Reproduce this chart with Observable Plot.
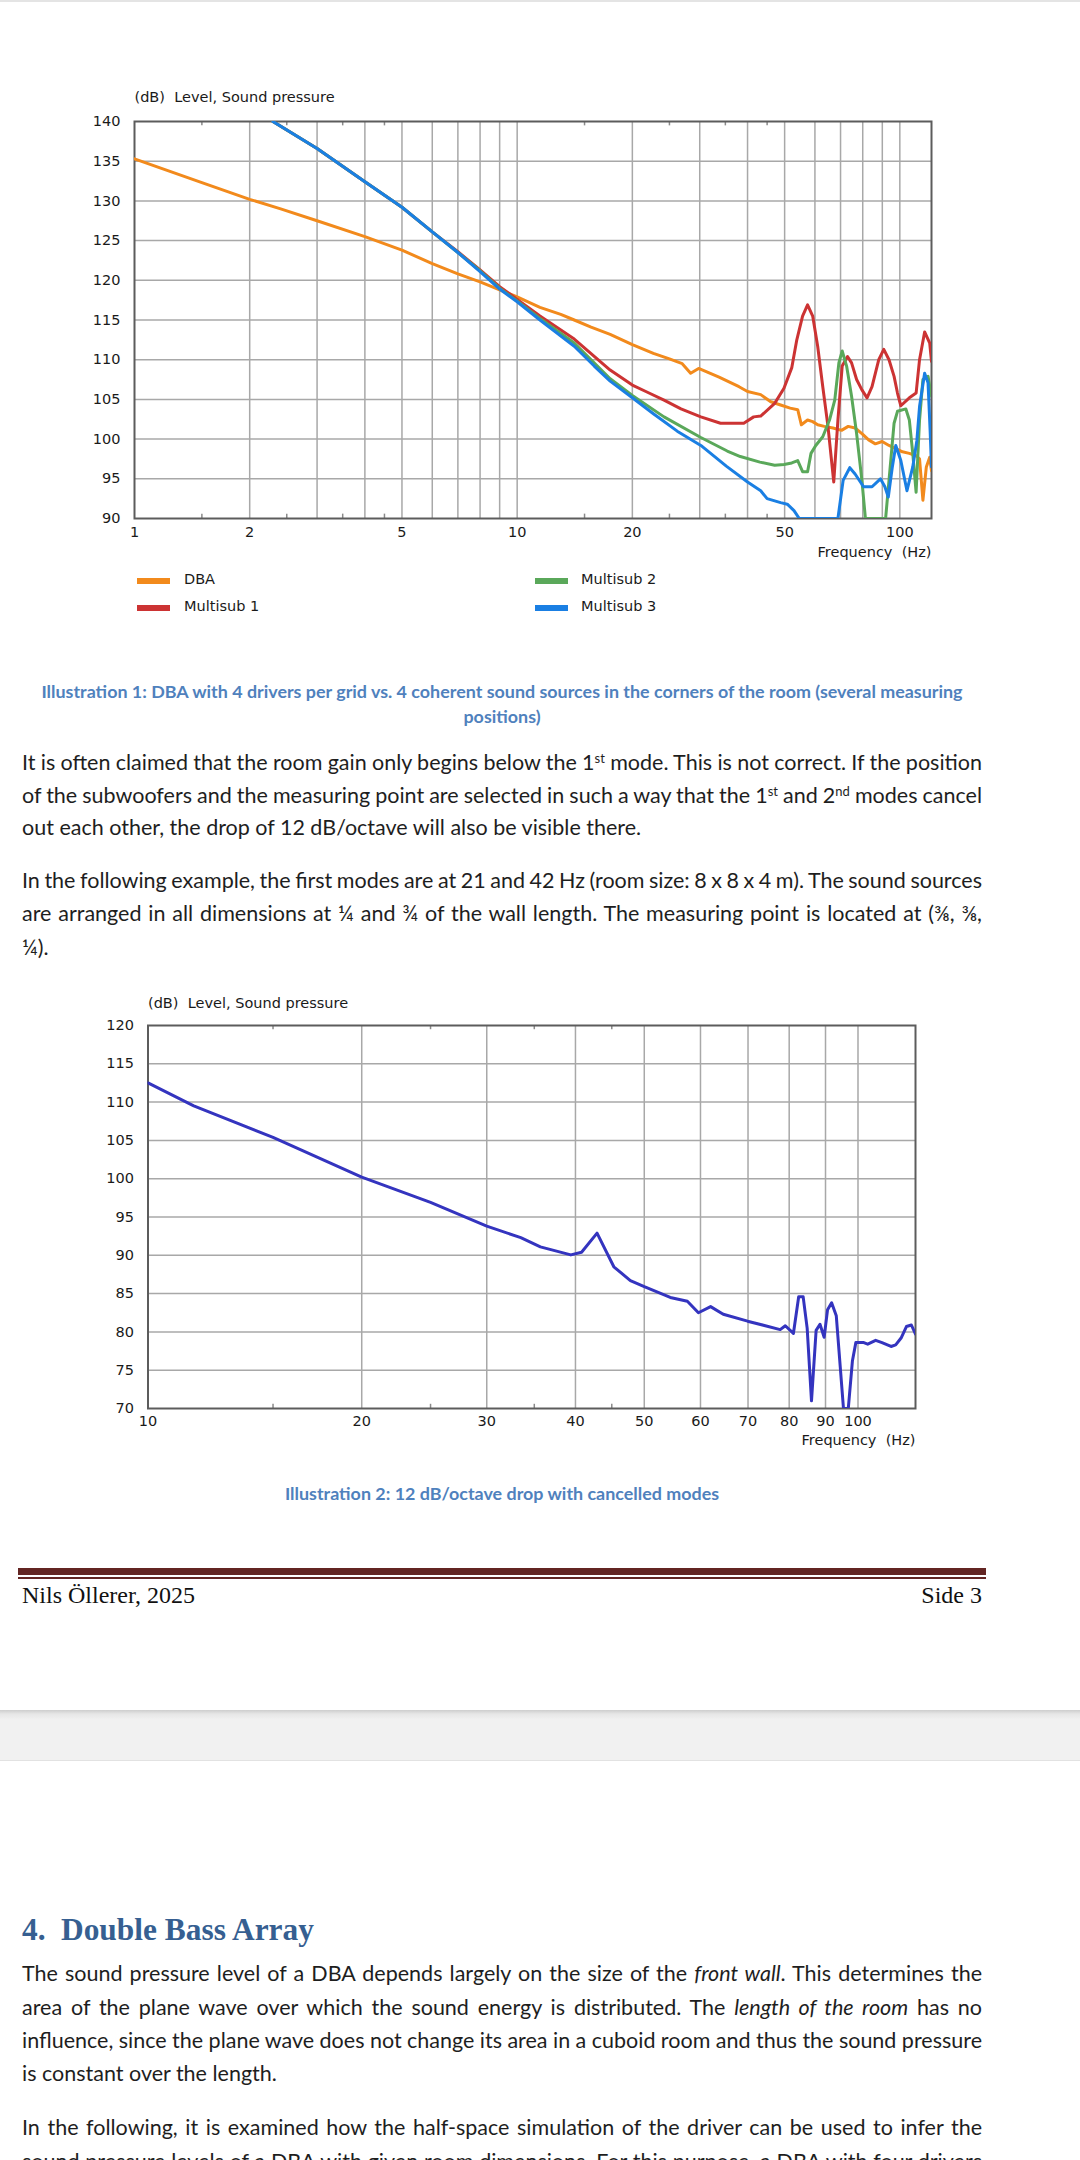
<!DOCTYPE html>
<html>
<head>
<meta charset="utf-8">
<script src="https://cdn.jsdelivr.net/npm/d3@7"></script>
<script src="https://cdn.jsdelivr.net/npm/@observablehq/plot@0.6"></script>
<style>
  html, body { margin: 0; padding: 0; background: #fff; }
  #page { position: relative; width: 1080px; height: 2160px; overflow: hidden; background: #fff; }
  .abs { position: absolute; }
  .line { position: absolute; left: 22px; width: 960px; height: 32px; line-height: 32px;
          font-family: "Lato", sans-serif; font-size: 21.5px; color: #1e1e1e; white-space: nowrap; }
  .j { text-align: justify; text-align-last: justify; white-space: normal; word-spacing: -2px; }
  .line sup { font-size: 13px; line-height: 0; vertical-align: 7px; }
  .cap { position: absolute; left: 22px; width: 960px; text-align: center; height: 26px; line-height: 26px;
         font-family: "Lato", sans-serif; font-weight: bold; font-size: 17.9px; color: #4f81bd; white-space: nowrap; }
  .leg { position: absolute; font-family: "DejaVu Sans", sans-serif; font-size: 14.5px; color: #1a1a1a;
         height: 18px; line-height: 18px; white-space: nowrap; }
  .sw { position: absolute; width: 33px; height: 6px; }
  .foot { position: absolute; font-family: "Liberation Serif", serif; font-size: 24px; color: #111;
          height: 36px; line-height: 36px; white-space: nowrap; }
  .head { position: absolute; top: 1908px; height: 44px; line-height: 44px; font-family: "Liberation Serif", serif;
          font-weight: bold; font-size: 31.4px; color: #365f91; white-space: nowrap; }
</style>
</head>
<body>
<div id="page">
  <div class="abs" style="left:0;top:0;width:1080px;height:2px;background:#e4e4e4"></div>
  <div id="chart1" class="abs" style="left:0;top:0"></div>

  <div class="sw" id="sw0" style="left:137px;top:578px"></div>
  <div class="leg" id="lg0" style="left:184px;top:570px"></div>
  <div class="sw" id="sw1" style="left:137px;top:605px"></div>
  <div class="leg" id="lg1" style="left:184px;top:597px"></div>
  <div class="sw" id="sw2" style="left:535px;top:578px"></div>
  <div class="leg" id="lg2" style="left:581px;top:570px"></div>
  <div class="sw" id="sw3" style="left:535px;top:605px"></div>
  <div class="leg" id="lg3" style="left:581px;top:597px"></div>

  <div class="cap" style="top:678px">Illustration 1: DBA with 4 drivers per grid vs. 4 coherent sound sources in the corners of the room (several measuring</div>
  <div class="cap" style="top:703px">positions)</div>

  <div class="line j" style="top:746px">It is often claimed that the room gain only begins below the 1<sup>st</sup> mode. This is not correct. If the position</div>
  <div class="line j" style="top:779px">of the subwoofers and the measuring point are selected in such a way that the 1<sup>st</sup> and 2<sup>nd</sup> modes cancel</div>
  <div class="line" style="top:811px">out each other, the drop of 12 dB/octave will also be visible there.</div>

  <div class="line j" style="top:864px">In the following example, the first modes are at 21 and 42 Hz (room size: 8 x 8 x 4 m). The sound sources</div>
  <div class="line j" style="top:897px">are arranged in all dimensions at ¼ and ¾ of the wall length. The measuring point is located at (⅜, ⅜,</div>
  <div class="line" style="top:931px">¼).</div>

  <div id="chart2" class="abs" style="left:0;top:960px"></div>

  <div class="cap" style="top:1480px">Illustration 2: 12 dB/octave drop with cancelled modes</div>

  <div class="abs" style="left:18px;top:1568px;width:968px;height:7px;background:#632523"></div>
  <div class="abs" style="left:18px;top:1577px;width:968px;height:1.5px;background:#632523"></div>
  <div class="foot" style="left:22px;top:1577px">Nils Öllerer, 2025</div>
  <div class="foot" style="left:682px;top:1577px;width:300px;text-align:right">Side 3</div>

  <div class="abs" style="left:0;top:1710px;width:1080px;height:51px;background:linear-gradient(#cdcdcd 0px,#e6e6e6 4px,#f1f1f1 10px,#f1f1f1 50px)"></div>
  <div class="abs" style="left:0;top:1760px;width:1080px;height:1px;background:#e2e2e2"></div>

  <div class="head" style="left:22px">4.</div>
  <div class="head" style="left:61px">Double Bass Array</div>

  <div class="line j" style="top:1957px">The sound pressure level of a DBA depends largely on the size of the <i>front wall</i>. This determines the</div>
  <div class="line j" style="top:1991px">area of the plane wave over which the sound energy is distributed. The <i>length of the room</i> has no</div>
  <div class="line j" style="top:2024px">influence, since the plane wave does not change its area in a cuboid room and thus the sound pressure</div>
  <div class="line" style="top:2057px">is constant over the length.</div>
  <div class="line j" style="top:2111px">In the following, it is examined how the half-space simulation of the driver can be used to infer the</div>
  <div class="line j" style="top:2145px">sound pressure levels of a DBA with given room dimensions. For this purpose, a DBA with four drivers</div>
</div>

<script>
// ---------- Chart 1 data ----------
const seriesNames = ["DBA", "Multisub 1", "Multisub 2", "Multisub 3"];
const seriesColors = ["#f28a1c", "#cc3333", "#5aa85a", "#1a7fe3"];

const dbaFreq  = [1, 1.5, 2, 2.41, 3, 4, 5, 6, 7, 8, 9, 10, 11.47, 13, 14.1, 15.6, 17.5, 20, 22.7, 25, 27, 28.4, 29.8, 33.7, 38, 40, 43.3, 46, 48.8, 51.7, 54.1, 55.3, 57.4, 59.2, 61, 63.5, 66.9, 70.4, 73.3, 76.4, 79.6, 82.9, 86.3, 89.9, 93.7, 97.6, 101.6, 105.9, 110.3, 112.6, 114.9, 117.3, 119.7, 121];
const dbaLevel = [135.3, 132.3, 130.2, 129.0, 127.5, 125.5, 123.8, 122.1, 120.8, 119.8, 118.8, 117.9, 116.6, 115.7, 115.0, 114.1, 113.2, 111.9, 110.8, 110.1, 109.5, 108.3, 108.9, 107.8, 106.6, 106.0, 105.6, 104.7, 104.3, 103.9, 103.7, 101.8, 102.4, 102.2, 101.8, 101.6, 101.4, 101.1, 101.6, 101.4, 100.7, 99.9, 99.4, 99.7, 99.2, 98.8, 98.4, 98.2, 97.9, 97.5, 92.3, 96.5, 97.7, 96.0];

const ms1Freq  = [2.3, 3, 4, 5, 6, 7, 8, 9, 10, 11.47, 14.1, 17.5, 20, 21.9, 24.2, 26.8, 30.2, 34, 39.1, 41.5, 43.3, 47.1, 49.8, 52.2, 53.8, 55.7, 57.4, 59.2, 61.0, 62.9, 64.9, 67.2, 68.9, 70.7, 73.0, 74.8, 77.1, 79.6, 82.1, 84.6, 88.1, 90.8, 93.7, 96.6, 98.6, 100.6, 105.9, 110.3, 112.6, 116.1, 119.7, 121];
const ms1Level = [140, 136.6, 132.4, 129.2, 126.1, 123.6, 121.3, 119.2, 117.6, 115.5, 112.6, 108.7, 106.8, 105.9, 104.9, 103.8, 102.8, 102.0, 102.0, 102.8, 102.9, 104.5, 106.4, 109.0, 112.5, 115.5, 116.9, 115.5, 111.7, 106.6, 101.6, 94.6, 102.4, 109.2, 110.4, 109.6, 107.5, 106.2, 105.2, 106.6, 110.0, 111.3, 110.0, 107.9, 105.8, 104.2, 105.2, 105.8, 110.0, 113.5, 112.1, 109.8];

const ms2Freq  = [2.3, 3, 4, 5, 6, 7, 8, 9, 10, 11.47, 14.1, 17.5, 20, 24.2, 30.2, 35.4, 38.3, 43.1, 47.1, 49.8, 52.2, 54.1, 55.7, 57.4, 58.6, 60.3, 62.9, 65.5, 67.6, 69.3, 70.7, 72.6, 74.8, 77.1, 79.6, 81.3, 91.8, 93.7, 96.6, 98.6, 103.7, 105.9, 108.1, 110.3, 112.6, 114.9, 118.5, 121];
const ms2Level = [140, 136.6, 132.4, 129.2, 126.1, 123.5, 121.2, 119.0, 117.4, 115.2, 112.1, 107.6, 105.5, 102.8, 100.2, 98.5, 97.8, 97.1, 96.7, 96.8, 97.0, 97.3, 95.9, 95.9, 98.2, 99.2, 100.3, 102.4, 104.9, 109.6, 111.1, 109.2, 105.4, 100.7, 94.8, 90, 90, 94.8, 102.0, 103.5, 103.8, 102.4, 98.2, 93.3, 102.4, 107.5, 107.9, 105.4];

const ms3Freq  = [2.3, 3, 4, 5, 6, 7, 8, 9, 10, 11.47, 14.1, 15.9, 17.5, 20, 22.7, 26.2, 30.2, 35.2, 40, 43.3, 45, 48.8, 50.8, 52.9, 54.6, 68.9, 71.1, 74.0, 76.4, 80.4, 84.6, 89.0, 91.4, 93.3, 95.6, 97.6, 100.6, 104.4, 108.1, 110.8, 112.6, 116.1, 118.5, 120, 121];
const ms3Level = [140, 136.6, 132.4, 129.2, 126.1, 123.5, 121.1, 118.9, 117.3, 115.0, 111.7, 109.2, 107.3, 105.2, 103.2, 101.0, 99.2, 96.6, 94.6, 93.5, 92.5, 92.0, 91.8, 91.0, 90, 90, 94.8, 96.4, 95.6, 94.0, 94.0, 95.0, 94.0, 92.7, 96.5, 99.2, 97.3, 93.5, 96.5, 99.8, 104.1, 108.3, 107.1, 101.1, 96.5];

const xTickLabels1 = [1, 2, 5, 10, 20, 50, 100];
const yTicks1 = [90, 95, 100, 105, 110, 115, 120, 125, 130, 135, 140];
const xGrid1 = [2, 3, 4, 5, 6, 7, 8, 9, 10, 20, 30, 40, 50, 60, 70, 80, 90, 100];
const yGrid1 = [95, 100, 105, 110, 115, 120, 125, 130, 135];
const xMinor1 = [1.5, 2.5, 3.5, 4.5, 15, 25, 35, 45];
const xDomain1 = [1, 121];
const yDomain1 = [90, 140];

// ---------- Chart 2 data ----------
const c2Freq  = [10, 11.6, 15, 20, 25, 30, 33.5, 35.7, 39.4, 40.8, 42.9, 45.3, 47.8, 50, 54.4, 57.5, 59.6, 62, 64.6, 69.9, 77.7, 79, 81.1, 82.5, 83.7, 84.8, 86.0, 87.3, 88.4, 89.6, 90.6, 91.8, 93.2, 95.4, 96.9, 98.2, 99.3, 101.9, 103.2, 105.9, 108.1, 111.3, 113, 115, 117, 118.9, 120.5];
const c2Level = [112.5, 109.5, 105.4, 100.2, 96.9, 93.8, 92.3, 91.1, 90.05, 90.4, 92.9, 88.5, 86.7, 85.9, 84.5, 84.0, 82.5, 83.3, 82.3, 81.4, 80.3, 80.8, 79.8, 84.6, 84.6, 80.5, 71.0, 80.2, 81.0, 79.3, 82.9, 83.8, 82.1, 70, 70, 76.2, 78.6, 78.6, 78.4, 78.9, 78.6, 78.1, 78.3, 79.2, 80.7, 80.9, 79.7];
const xTickLabels2 = [10, 20, 30, 40, 50, 60, 70, 80, 90, 100];
const yTicks2 = [70, 75, 80, 85, 90, 95, 100, 105, 110, 115, 120];
const xGrid2 = [20, 30, 40, 50, 60, 70, 80, 90, 100];
const yGrid2 = [75, 80, 85, 90, 95, 100, 105, 110, 115];
const xMinor2 = [15, 25, 35, 45];
const xDomain2 = [10, 120.5];
const yDomain2 = [70, 120];
const c2Color = "#3434bf";

const yTitle = "(dB)\u00a0\u00a0Level, Sound pressure";
const xTitle = "Frequency\u00a0\u00a0(Hz)";

// ---------- build ----------
const freqs1 = [dbaFreq, ms1Freq, ms2Freq, ms3Freq];
const levels1 = [dbaLevel, ms1Level, ms2Level, ms3Level];
const tables1 = seriesNames.map((s, i) => freqs1[i].map((f, j) => ({series: s, f, db: levels1[i][j]})));
const table2 = c2Freq.map((f, j) => ({f, db: c2Level[j]}));

const gridStroke = "#a8a8a8";
const frameStroke = "#5c5c5c";
const textFill = "#1a1a1a";

function chartMarks(xGrid, yGrid, xMinor, yDomain) {
  const span = yDomain[1] - yDomain[0];
  return [
    Plot.ruleX(xGrid, {stroke: gridStroke, strokeWidth: 1.5}),
    Plot.ruleY(yGrid, {stroke: gridStroke, strokeWidth: 1.5}),
    Plot.ruleX(xMinor, {y1: yDomain[0], y2: yDomain[0] + span * 0.011, stroke: "#8a8a8a", strokeWidth: 1.5}),
    Plot.ruleX(xMinor, {y1: yDomain[1] - span * 0.011, y2: yDomain[1], stroke: "#8a8a8a", strokeWidth: 1.5}),
    Plot.frame({stroke: frameStroke, strokeWidth: 2})
  ];
}

const chart1 = Plot.plot({
  width: 1080, height: 620,
  marginLeft: 134, marginRight: 149, marginTop: 121, marginBottom: 102,
  style: {fontFamily: "DejaVu Sans, sans-serif", fontSize: "14.5px", color: textFill, background: "transparent"},
  x: {type: "log", domain: xDomain1, ticks: xTickLabels1, tickFormat: d => String(d), tickSize: 0, tickPadding: 8, label: null},
  y: {domain: yDomain1, ticks: yTicks1, tickSize: 0, tickPadding: 14, label: null},
  color: {domain: seriesNames, range: seriesColors},
  marks: [
    ...chartMarks(xGrid1, yGrid1, xMinor1, yDomain1),
    ...tables1.map(t => Plot.line(t, {x: "f", y: "db", stroke: "series", strokeWidth: 3, clip: true, strokeLinejoin: "round"})),
    Plot.text([yTitle], {frameAnchor: "top-left", lineAnchor: "middle", text: d => d, dy: -24, textAnchor: "start", fill: textFill}),
    Plot.text([xTitle], {frameAnchor: "bottom-right", lineAnchor: "middle", text: d => d, dy: 34, textAnchor: "end", fill: textFill})
  ]
});
document.getElementById("chart1").appendChild(chart1);

const chart2 = Plot.plot({
  width: 1080, height: 520,
  marginLeft: 147.5, marginRight: 165, marginTop: 65, marginBottom: 72,
  style: {fontFamily: "DejaVu Sans, sans-serif", fontSize: "14.5px", color: textFill, background: "transparent"},
  x: {type: "log", domain: xDomain2, ticks: xTickLabels2, tickFormat: d => String(d), tickSize: 0, tickPadding: 7, label: null},
  y: {domain: yDomain2, ticks: yTicks2, tickSize: 0, tickPadding: 14, label: null},
  marks: [
    ...chartMarks(xGrid2, yGrid2, xMinor2, yDomain2),
    Plot.line(table2, {x: "f", y: "db", stroke: c2Color, strokeWidth: 3, clip: true, strokeLinejoin: "round"}),
    Plot.text([yTitle], {frameAnchor: "top-left", lineAnchor: "middle", text: d => d, dy: -22, textAnchor: "start", fill: textFill}),
    Plot.text([xTitle], {frameAnchor: "bottom-right", lineAnchor: "middle", text: d => d, dy: 32, textAnchor: "end", fill: textFill})
  ]
});
document.getElementById("chart2").appendChild(chart2);

// legend for chart 1 (HTML, below the SVG)
seriesNames.forEach((s, i) => {
  document.getElementById("sw" + i).style.background = seriesColors[i];
  document.getElementById("lg" + i).textContent = s;
});
</script>
</body>
</html>
